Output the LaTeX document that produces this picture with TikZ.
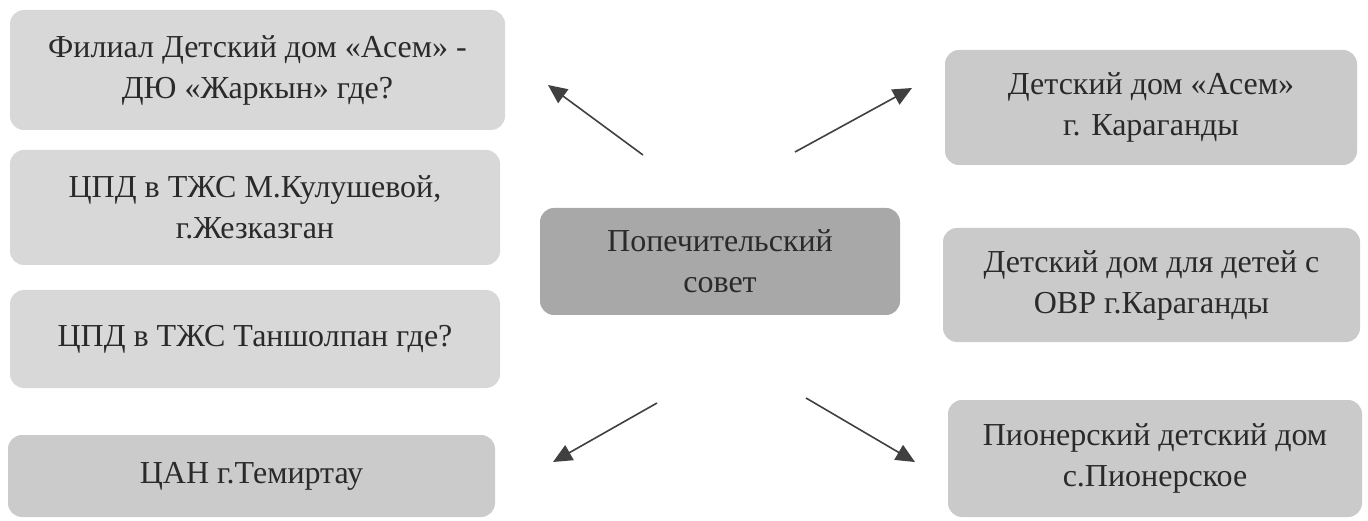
\documentclass[tikz,border=0pt]{standalone}
\usepackage{fontspec}
\setmainfont{Liberation Serif}
\usetikzlibrary{arrows.meta}
\definecolor{lbox}{HTML}{D8D8D8}
\definecolor{lboxd}{HTML}{CBCBCB}
\definecolor{rbox}{HTML}{CACACA}
\definecolor{cbox}{HTML}{A8A8A8}
\definecolor{txt}{HTML}{2A2A2A}
\definecolor{arr}{HTML}{404040}
\tikzset{
  card/.style={rectangle, rounded corners=14pt, draw=none, inner sep=0pt, align=center,
    text=txt, font=\fontsize{32}{41}\selectfont},
  link/.style={draw=arr, line width=1.6pt, -{Triangle[length=19pt,width=17pt]}}
}
\begin{document}
\begin{tikzpicture}[x=1pt,y=-1pt]
\useasboundingbox[fill=white] (0,0) rectangle (1368,521);
\node[card, fill=lbox, minimum width=495pt, minimum height=120pt] (l1) at (257.5,70)
  {Филиал Детский дом «Асем» -\\ДЮ «Жаркын» где?};
\node[card, fill=lbox, minimum width=490pt, minimum height=115pt] (l2) at (255,207.5)
  {ЦПД в ТЖС М.Кулушевой,\\г.Жезказган};
\node[card, fill=lbox, minimum width=490pt, minimum height=98pt] (l3) at (255,339)
  {ЦПД в ТЖС Таншолпан где?};
\node[card, fill=lboxd, minimum width=487pt, minimum height=82pt] (l4) at (251.5,476)
  {ЦАН г.Темиртау};
\node[card, fill=cbox, minimum width=360pt, minimum height=107pt] (c) at (720,261.5)
  {Попечительский\\совет};
\node[card, fill=rbox, minimum width=412pt, minimum height=115pt] (r1) at (1151,107.5)
  {Детский дом «Асем»\\г. Караганды};
\node[card, fill=rbox, minimum width=417pt, minimum height=114pt] (r2) at (1151.5,285)
  {Детский дом для детей с\\ОВР г.Караганды};
\node[card, fill=rbox, minimum width=414pt, minimum height=117pt] (r3) at (1155,458.5)
  {Пионерский детский дом\\с.Пионерское};
\coordinate (a1s) at (643,155); \coordinate (a1e) at (548,85);
\coordinate (a2s) at (795,152); \coordinate (a2e) at (912,88);
\coordinate (a3s) at (657,403); \coordinate (a3e) at (553,462);
\coordinate (a4s) at (806,398); \coordinate (a4e) at (915,462);
\draw[link] (a1s) -- (a1e);
\draw[link] (a2s) -- (a2e);
\draw[link] (a3s) -- (a3e);
\draw[link] (a4s) -- (a4e);
\end{tikzpicture}
\end{document}
